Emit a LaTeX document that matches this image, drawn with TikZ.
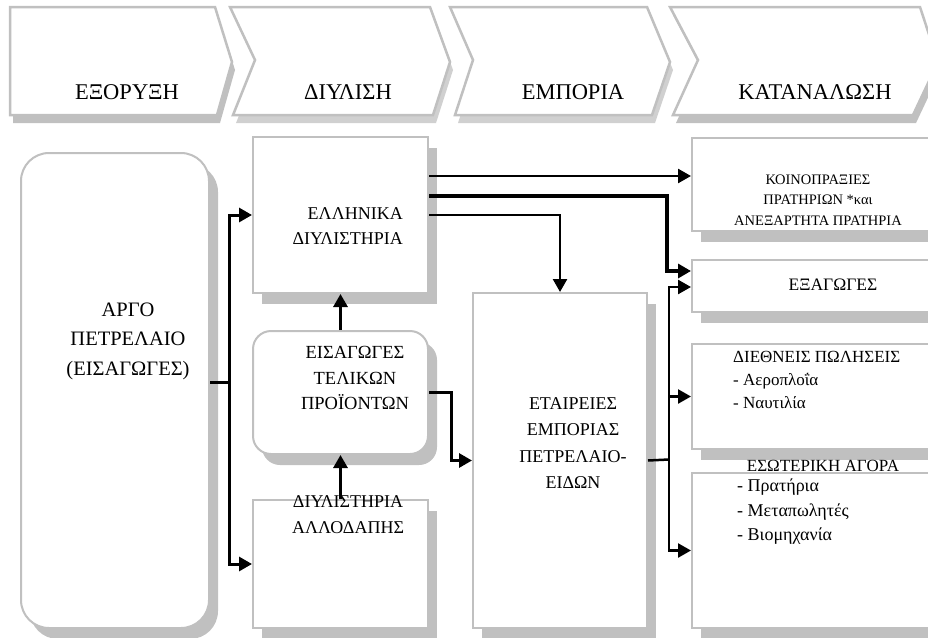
\documentclass[tikz,border=0pt]{standalone}
\usepackage{fontspec}
\setmainfont{Liberation Serif}
\usetikzlibrary{arrows.meta,shadows}
\definecolor{bord}{RGB}{192,192,192}
\definecolor{shd}{RGB}{192,192,192}
\definecolor{shdl}{RGB}{208,208,208}
\begin{document}
\begin{tikzpicture}[x=1pt,y=-1pt,
  box/.style={draw=bord, line width=2pt, fill=white, anchor=north west, inner sep=0pt,
     general shadow={fill=shd, shadow xshift=9pt, shadow yshift=-11pt}},
  chev/.style={draw=bord, line width=2.5pt, fill=white, line join=miter},
  conn/.style={line width=2.5pt, line join=miter, -{Triangle[length=13pt,width=14pt]}},
  plain/.style={line width=2.5pt},
  hdr/.style={font=\fontsize{22.5}{26}\selectfont, inner sep=0pt},
  txt/.style={inner sep=0pt, align=center}
]
\useasboundingbox (0,0) rectangle (928,637);
\clip (0,0) rectangle (928,637);
\fill[white] (0,0) rectangle (928,637);

% header chevrons
\fill[shd, shift={(3,8)}] (10,7) -- (215,7) -- (232,62) -- (217,115) -- (10,115) -- cycle;
\draw[chev] (10,7) -- (215,7) -- (232,62) -- (217,115) -- (10,115) -- cycle;
\fill[shdl, shift={(3,8)}] (230,7) -- (430,7) -- (450,62) -- (433,115) -- (233,115) -- (255,60) -- cycle;
\draw[chev] (230,7) -- (430,7) -- (450,62) -- (433,115) -- (233,115) -- (255,60) -- cycle;
\fill[shdl, shift={(3,8)}] (450,7) -- (647,7) -- (670,62) -- (652,115) -- (455,115) -- (473,60) -- cycle;
\draw[chev] (450,7) -- (647,7) -- (670,62) -- (652,115) -- (455,115) -- (473,60) -- cycle;
\fill[shd, shift={(3,8)}] (670,7) -- (920,7) -- (938,62) -- (913,115) -- (673,115) -- (698,60) -- cycle;
\draw[chev] (670,7) -- (920,7) -- (938,62) -- (913,115) -- (673,115) -- (698,60) -- cycle;

\node[hdr] (h1) at (127,92) {ΕΞΟΡΥΞΗ};
\node[hdr] (h2) at (348,92) {ΔΙΥΛΙΣΗ};
\node[hdr] (h3) at (573,92) {ΕΜΠΟΡΙΑ};
\node[hdr] (h4) at (815,92) {ΚΑΤΑΝΑΛΩΣΗ};

% boxes
\node[box, rounded corners=28pt, minimum width=188pt, minimum height=475pt] (argo) at (20,152) {};
\node[box, minimum width=175pt, minimum height=156pt] (ellin) at (252,136) {};
\node[box, rounded corners=18pt, minimum width=175pt, minimum height=123pt] (eisag) at (252,330) {};
\node[box, minimum width=175pt, minimum height=128pt] (allod) at (252,499) {};
\node[box, minimum width=174pt, minimum height=335pt] (etair) at (472,292) {};
\node[box, minimum width=280pt, minimum height=93pt] (koino) at (691,137) {};
\node[box, minimum width=280pt, minimum height=52pt] (exag) at (691,259) {};
\node[box, minimum width=280pt, minimum height=105pt] (dieth) at (691,343) {};
\node[box, minimum width=280pt, minimum height=155pt] (esot) at (691,472) {};

% connectors
\coordinate (jA) at (229,382);
\draw[plain, line width=3pt] (argo.east |- jA) -- (jA);
\draw[conn, line width=3pt] (jA) |- (ellin.west);
\draw[conn, line width=3pt] (jA) |- (allod.west);
\draw[conn, line width=3pt] (eisag.north) -- (ellin.south);
\draw[conn, line width=3pt] (allod.north) -- (eisag.south);
\draw[conn, line width=3pt] (eisag.east) -- ++(22,0) |- (etair.west);
\draw[conn] (ellin.east |- 0,176) -- (koino.west |- 0,176);
\coordinate (jC) at (667,271);
\draw[conn, line width=4pt] (ellin.east |- 0,196) -| (jC) -- (exag.west |- jC);
\draw[conn] (ellin.east |- 0,215) -| (etair.north);
\coordinate (jD) at (669,459.5);
\draw[plain] (etair.east) -- (jD);
\draw[conn] (jD) |- (exag.west |- 0,287);
\draw[conn] (jD) |- (dieth.west);
\draw[conn] (jD) |- (esot.west);

% texts
\node[txt, font=\fontsize{20.5}{29.5}\selectfont] (targo) at (128,341) {ΑΡΓΟ\\ΠΕΤΡΕΛΑΙΟ\\(ΕΙΣΑΓΩΓΕΣ)};
\node[txt, anchor=east, align=right, font=\fontsize{18}{25}\selectfont] (tellin) at (403,226) {ΕΛΛΗΝΙΚΑ\\ΔΙΥΛΙΣΤΗΡΙΑ};
\node[txt, font=\fontsize{18.5}{25.5}\selectfont] (teisag) at (355,378) {ΕΙΣΑΓΩΓΕΣ\\ΤΕΛΙΚΩΝ\\ΠΡΟΪΟΝΤΩΝ};
\node[txt, font=\fontsize{18}{26}\selectfont] (tallod) at (348,515) {ΔΙΥΛΙΣΤΗΡΙΑ\\ΑΛΛΟΔΑΠΗΣ};
\node[txt, font=\fontsize{18}{26.5}\selectfont] (tetair) at (573,443) {ΕΤΑΙΡΕΙΕΣ\\ΕΜΠΟΡΙΑΣ\\ΠΕΤΡΕΛΑΙΟ-\\ΕΙΔΩΝ};
\node[txt, font=\fontsize{14.5}{20.5}\selectfont] (tkoino) at (818,200) {ΚΟΙΝΟΠΡΑΞΙΕΣ\\ΠΡΑΤΗΡΙΩΝ *και\\ΑΝΕΞΑΡΤΗΤΑ ΠΡΑΤΗΡΙΑ};
\node[txt, font=\fontsize{17.5}{20}\selectfont] (texag) at (833,285) {ΕΞΑΓΩΓΕΣ};
\node[txt, anchor=west, align=left, font=\fontsize{17}{23}\selectfont] (tdieth) at (733,380) {ΔΙΕΘΝΕΙΣ ΠΩΛΗΣΕΙΣ\\- Αεροπλοΐα\\- Ναυτιλία};
\node[txt, font=\fontsize{17}{20}\selectfont] (tesot) at (823,466) {ΕΣΩΤΕΡΙΚΗ ΑΓΟΡΑ};
\node[txt, anchor=west, align=left, font=\fontsize{18}{24.5}\selectfont] (tesoti) at (737,512) {- Πρατήρια\\- Μεταπωλητές\\- Βιομηχανία};
\end{tikzpicture}
\end{document}
